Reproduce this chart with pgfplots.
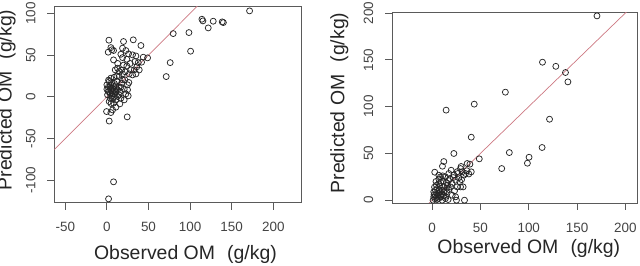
\documentclass[border=0pt]{standalone}
\usepackage{pgfplots}
\pgfplotsset{compat=1.18}
\usepackage{pgfplotstable}
\usepackage{fontspec}
\setmainfont{Liberation Sans}
\definecolor{boxgray}{HTML}{5A5A5A}
\definecolor{lblgray}{HTML}{444444}
\definecolor{linered}{RGB}{205,120,130}

\pgfplotstableread{
x y
171.5 103
138.6 89.8
140.0 89.0
127.8 90.6
121.8 82.6
114.2 93.0
115.4 91.0
98.6 77.0
100.6 54.7
79.7 75.8
76.1 41.0
71.3 24.3
48.9 46.7
43.7 47.5
40.9 61.5
31.7 68.3
20.0 66.3
2.4 67.9
4.8 59.0
8.0 55.5
1.6 53.5
6.0 56.5
18.8 58.3
22.8 55.5
16.8 51.0
26.0 51.5
30.8 50.3
34.9 49.0
8.0 44.3
18.8 47.0
24.0 45.0
33.7 42.3
37.7 41.0
41.7 41.5
12.8 34.3
17.6 32.3
24.0 37.0
28.8 32.3
32.9 32.3
38.9 32.3
30.8 26.3
34.9 27.5
26.8 27.5
10.0 32.3
4.8 22.4
8.8 23.5
14.8 24.4
21.6 20.4
26.4 17.2
18.8 27.5
14.8 30.3
18.8 20.4
2.8 18.4
4.8 14.4
1.6 11.6
6.8 10.4
0.0 9.2
8.8 8.4
3.2 6.4
10.8 5.2
0.8 2.4
6.0 1.2
12.8 0.4
4.0 -1.6
10.8 -3.6
14.8 2.4
16.8 11.6
20.8 9.2
16.0 6.4
22.8 3.6
24.8 8.4
25.6 1.2
24.8 14.4
16.8 -1.6
8.0 -7.6
15.6 -8.4
10.8 -12.4
6.8 -15.6
-0.4 -17.6
4.8 -18.8
2.8 -29.0
24.4 -24.0
8.0 -101.8
2.0 -122.2
1.6 6.4
4.8 9.2
8.0 12.4
10.8 13.2
4.0 3.6
8.8 0.4
12.8 8.4
0.0 14.4
5.6 17.2
12.0 18.4
17.6 16.4
14.8 11.6
9.6 3.6
2.8 -5.6
6.8 -2.8
20.8 -3.6
2.0 20.0
6.5 5.0
9.0 16.0
3.5 12.0
11.5 10.0
7.5 7.0
5.0 -8.0
12.0 25.0
22.0 30.0
28.0 40.0
36.0 36.0
13.0 40.0
20.0 38.0
}\lefttable

\pgfplotstableread{
x y
170.6 196.9
114.2 147.4
128.0 143.0
138.0 136.4
140.5 126.4
121.5 86.5
113.8 56.3
100.3 45.9
98.6 39.5
79.9 50.9
75.8 115.4
72.0 33.8
48.8 44.2
43.6 102.6
40.5 67.3
14.5 96.2
22.5 49.9
12.1 41.3
10.7 36.3
2.7 29.9
36.3 39.2
39.1 38.5
40.5 30.3
33.5 0.0
25.2 0.0
16.6 0.7
6.9 26.7
8.6 24.9
17.3 28.5
19.7 32.0
21.8 24.2
24.3 21.4
26.6 28.5
29.4 33.8
31.1 30.3
32.8 26.7
28.7 19.6
25.9 14.2
23.2 10.0
29.4 14.2
32.1 14.2
34.6 28.5
20.8 5.3
24.3 3.6
19.0 14.2
14.9 18.5
12.1 14.2
10.4 10.7
8.6 8.9
5.9 7.1
3.4 5.3
1.7 3.6
4.5 2.8
6.9 1.8
9.3 3.6
12.1 5.3
14.9 8.9
17.3 11.4
5.2 12.5
8.0 15.0
3.4 10.7
1.7 8.9
6.9 17.8
11.4 20.7
13.8 24.9
18.3 23.1
1.0 0.0
5.2 0.7
10.4 0.0
13.8 1.8
8.6 5.3
2.5 14.0
4.0 20.0
7.5 11.0
10.0 6.5
6.0 4.5
3.0 1.5
12.5 9.5
15.5 13.0
9.0 19.0
20.5 18.0
22.5 27.0
27.5 24.0
30.5 22.0
17.0 21.0
11.0 26.0
36.0 31.5
38.0 28.0
7.0 22.5
14.0 4.0
16.0 16.0
2.0 6.0
7.5 8.0
4.5 16.0
26.0 30.5
30.0 36.0
}\righttable

\pgfplotsset{
  rstyle/.style={
    scale only axis,
    axis line style={boxgray, line width=0.9bp},
    every tick/.style={boxgray, line width=0.9bp},
    tick align=outside,
    xtick pos=lower, ytick pos=left,
    major tick length=7bp,
    minor tick num=0,
    /pgf/number format/assume math mode=true,
    /pgf/number format/1000 sep={},
    tick label style={font=\fontsize{13.5}{15}\selectfont, text=lblgray},
    xticklabel style={anchor=center, yshift=-17.5bp},
    yticklabel style={anchor=center, xshift=-16.5bp, rotate=90},
    clip=true,
  },
  ptstyle/.style={only marks, mark=o, mark size=3bp, mark options={black!85, line width=0.75bp}},
}

\begin{document}
\begin{tikzpicture}
\begin{axis}[rstyle,
  at={(54.3bp,63.3bp)}, anchor=south west,
  width=246.7bp, height=196bp,
  xmin=-63.2, xmax=233.3, ymin=-126.8, ymax=108,
  xtick={-50,0,50,100,150,200},
  ytick={-100,-50,0,50,100},
]
\addplot[linered, line width=0.7bp] coordinates {(-80,-80) (260,260)};
\addplot[ptstyle] table[x=x, y=y] {\lefttable};
\end{axis}
\begin{axis}[rstyle,
  at={(392bp,63bp)}, anchor=south west,
  width=245bp, height=190.3bp,
  xmin=-41.5, xmax=212, ymin=-3, ymax=200.3,
  xtick={0,50,100,150,200},
  ytick={0,50,100,150,200},
]
\addplot[linered, line width=0.7bp] coordinates {(-10,-10) (220,220)};
\addplot[ptstyle] table[x=x, y=y] {\righttable};
\end{axis}
\node[font=\fontsize{19.5}{22}\selectfont, text=black!85] at (185.5bp,12bp) {Observed OM\hspace{0.35em} (g/kg)};
\node[font=\fontsize{19.5}{22}\selectfont, text=black!85] at (528.8bp,17.7bp) {Observed OM\hspace{0.35em} (g/kg)};
\node[font=\fontsize{19.5}{22}\selectfont, text=black!85, rotate=90] at (6.7bp,166bp) {Predicted OM\hspace{0.35em} (g/kg)};
\node[font=\fontsize{19.5}{22}\selectfont, text=black!85, rotate=90] at (339.3bp,163bp) {Predicted OM\hspace{0.35em} (g/kg)};
\pgfresetboundingbox
\path[use as bounding box] (0,0) rectangle (640bp,266bp);
\end{tikzpicture}
\end{document}
